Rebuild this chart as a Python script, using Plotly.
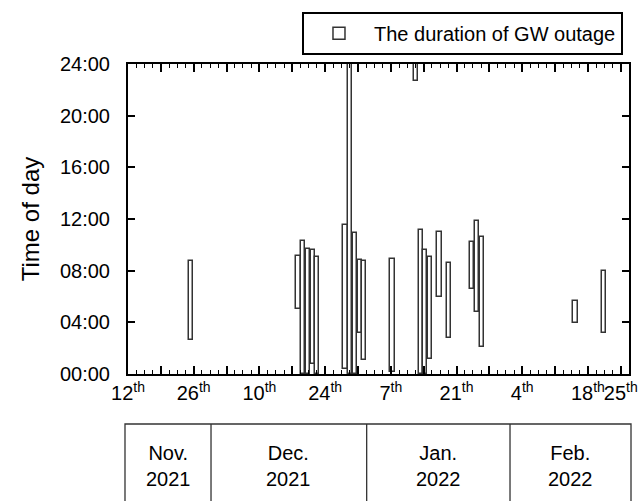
import plotly.graph_objects as go
import pandas as pd

# ---- data ----
outage_dates = ["2021-11-25", "2021-12-18", "2021-12-19", "2021-12-20", "2021-12-21",
                "2021-12-22", "2021-12-28", "2021-12-29", "2021-12-30", "2021-12-31",
                "2022-01-01", "2022-01-07", "2022-01-12", "2022-01-13", "2022-01-14",
                "2022-01-15", "2022-01-17", "2022-01-19", "2022-01-24", "2022-01-25",
                "2022-01-26", "2022-02-15", "2022-02-21"]
start_hours = [2.6, 5.0, 0.0, 0.0, 0.77, 0.0, 0.36, 0.0, 0.0, 3.15,
               1.08, 0.18, 22.7, 0.0, 0.0, 1.13, 6.0, 2.76, 6.55, 4.82,
               2.12, 3.92, 3.2]
end_hours = [8.75, 9.15, 10.27, 9.7, 9.62, 9.08, 11.5, 24.0, 10.9, 8.82,
             8.77, 8.87, 24.0, 11.15, 9.57, 9.03, 11.02, 8.62, 10.24, 11.84,
             10.63, 5.68, 7.95]

label_ticks = ["2021-11-12", "2021-11-26", "2021-12-10", "2021-12-24", "2022-01-07",
               "2022-01-21", "2022-02-04", "2022-02-18", "2022-02-25"]
label_text = ["12<sup>th</sup>", "26<sup>th</sup>", "10<sup>th</sup>", "24<sup>th</sup>",
              "7<sup>th</sup>", "21<sup>th</sup>", "4<sup>th</sup>", "18<sup>th</sup>",
              "25<sup>th</sup>"]
week_ticks = ["2021-11-12", "2021-11-19", "2021-11-26", "2021-12-03", "2021-12-10",
              "2021-12-17", "2021-12-24", "2021-12-31", "2022-01-07", "2022-01-14",
              "2022-01-21", "2022-01-28", "2022-02-04", "2022-02-11", "2022-02-18",
              "2022-02-25"]

y_tickvals = [0, 4, 8, 12, 16, 20, 24]
y_ticklabels = ["00:00", "04:00", "08:00", "12:00", "16:00", "20:00", "24:00"]

month_labels = ["Nov.<br>2021", "Dec.<br>2021", "Jan.<br>2022", "Feb.<br>2022"]

DAY_MS = 86400000
FONT = "Liberation Sans, Arial, sans-serif"
X_RANGE = ["2021-11-12", "2022-02-26 18:00"]

durations = [e - s for s, e in zip(start_hours, end_hours)]

fig = go.Figure()
fig.add_trace(go.Bar(
    x=pd.to_datetime(outage_dates),
    y=durations,
    base=start_hours,
    width=0.9 * DAY_MS,
    offset=-0.1 * DAY_MS,
    marker=dict(color="white", line=dict(color="#333333", width=1.5)),
    name="The duration of GW outage",
    showlegend=True,
))
# empty helper trace so the weekly tick axis is drawn
fig.add_trace(go.Scatter(x=[], y=[], xaxis="x2", showlegend=False, hoverinfo="skip"))

fig.update_layout(
    width=643, height=501,
    margin=dict(l=128, r=14, t=64, b=127, autoexpand=False),
    paper_bgcolor="white", plot_bgcolor="white",
    font=dict(family=FONT, size=20, color="black"),
    bargap=0,
    showlegend=True,
    legend=dict(x=0.988, xanchor="right", y=1.03, yanchor="bottom",
                bordercolor="black", borderwidth=2, bgcolor="white",
                font=dict(size=20), itemwidth=60),
    xaxis=dict(
        type="date", range=X_RANGE,
        tickmode="array", tickvals=label_ticks, ticktext=label_text,
        tickangle=0,
        ticks="inside", ticklen=8, tickwidth=1.5, tickcolor="black",
        minor=dict(dtick=1.75 * DAY_MS, tick0="2021-11-12", ticks="inside",
                   ticklen=4, tickwidth=1.2, tickcolor="black"),
        showline=True, linecolor="black", linewidth=2, mirror="ticks",
        showgrid=False, zeroline=False, tickfont=dict(size=20),
        automargin=False,
    ),
    xaxis2=dict(
        type="date", range=X_RANGE, overlaying="x", matches="x", anchor="y",
        tickmode="array", tickvals=week_ticks, showticklabels=False,
        ticks="inside", ticklen=8, tickwidth=1.5, tickcolor="black",
        showline=False, mirror="ticks", side="bottom",
        showgrid=False, zeroline=False, automargin=False,
    ),
    yaxis=dict(
        range=[0, 24],
        tickmode="array", tickvals=y_tickvals, ticktext=y_ticklabels,
        ticks="inside", ticklen=7, tickwidth=1.5, tickcolor="black",
        showline=True, linecolor="black", linewidth=2, mirror="ticks",
        showgrid=False, zeroline=False,
        tickfont=dict(size=20), ticklabelstandoff=12,
        title=dict(text="Time of day", font=dict(size=24), standoff=14),
        automargin=False,
    ),
)

# month table under the axis
table_x = [-0.006, 0.1657, 0.4764, 0.7625, 1.004]
fig.add_shape(type="rect", xref="paper", yref="paper",
              x0=table_x[0], x1=table_x[-1], y0=-0.45, y1=-0.1613,
              line=dict(color="#333333", width=1.3), fillcolor="rgba(0,0,0,0)")
for xd in table_x[1:-1]:
    fig.add_shape(type="line", xref="paper", yref="paper",
                  x0=xd, x1=xd, y0=-0.45, y1=-0.1613,
                  line=dict(color="#333333", width=1.3))
for i, lab in enumerate(month_labels):
    fig.add_annotation(xref="paper", yref="paper",
                       x=(table_x[i] + table_x[i + 1]) / 2, y=-0.297,
                       text=lab, showarrow=False, xanchor="center", yanchor="middle",
                       font=dict(size=20, color="black"), align="center")

fig.write_html("out.html", config={"displayModeBar": False},
               post_script="document.body.style.margin='0px';")
